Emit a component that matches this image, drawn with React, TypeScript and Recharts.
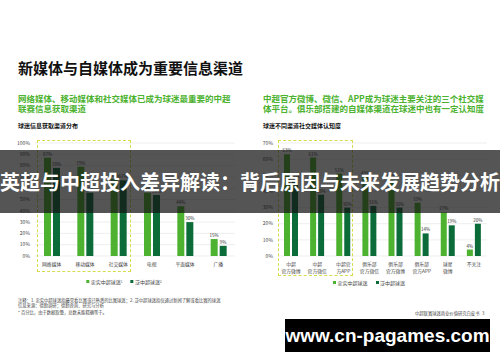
import { BarChart, Bar, XAxis, YAxis, CartesianGrid, LabelList } from 'recharts';

const canalesInfo = ['网络媒体', '移动媒体', '社交媒体', '电视', '平面媒体', '广播'];
const lealesInfo = [87, 79, 68, 56, 44, 15];
const generalesInfo = [78, 56, 67, 54, 30, 9];
const ticksInfo = [0, 10, 20, 30, 40, 50, 60, 70, 80, 90, 100];

const canalesSocial = [
  '中超\n官方微博',
  '中超\n官方微信',
  '中超官\n方APP',
  '俱乐部\n官方微信',
  '俱乐部\n官方微博',
  '俱乐部\n官方APP',
  '球星\n微博',
  '不关注',
];
const lealesSocial = [63, 61, 51, 49, 47, 33, 27, 4];
const generalesSocial = [47, 38, 30, 31, 30, 14, 19, 20];
const ticksSocial = [0, 10, 20, 30, 40, 50, 60, 70];

const FONT = '"Noto Sans CJK SC", "Noto Sans", sans-serif';
const VERDE = '#4cb22f';
const OSCURO = '#0b6c3a';
const AMARILLO = '#d5dd4e';

const datosInfo = canalesInfo.map((c, i) => ({ canal: c, leal: lealesInfo[i], general: generalesInfo[i] }));
const datosSocial = canalesSocial.map((c, i) => ({ canal: c, leal: lealesSocial[i], general: generalesSocial[i] }));

const pct = (v: any) => `${v}%`;

function TickCategoria({ x, y, payload }: any) {
  const lineas = String(payload.value).split('\n');
  return (
    <text x={x} y={y + 10} textAnchor="middle" fontSize={4.8} fill="#444" fontFamily={FONT}>
      {lineas.map((l, i) => (
        <tspan key={i} x={x} dy={i === 0 ? 0 : 7}>
          {l}
        </tspan>
      ))}
    </text>
  );
}

function Leyenda({ left, top }: { left: number; top: number }) {
  const item = (color: string, texto: string, sup: string) => (
    <span style={{ display: 'inline-flex', alignItems: 'center', marginRight: 8 }}>
      <span style={{ width: 3, height: 3, background: color, marginRight: 1.5 }} />
      {texto}
      {sup && <sup style={{ fontSize: 3, lineHeight: 0 }}>{sup}</sup>}
    </span>
  );
  return (
    <div
      style={{
        position: 'absolute',
        left,
        top,
        transform: 'translateX(-50%)',
        fontSize: 5,
        color: '#444',
        whiteSpace: 'nowrap',
        display: 'flex',
      }}
    >
      {item(VERDE, '忠实中超球迷', left < 250 ? '1' : '')}
      {item(OSCURO, '泛中超球迷', left < 250 ? '2' : '')}
    </div>
  );
}

function Grafica({ datos, ticks, max, left, ancho, yAncho, derecha, barSize }: any) {
  return (
    <div style={{ position: 'absolute', left, top: 130 }}>
      <BarChart
        width={ancho}
        height={150}
        data={datos}
        margin={{ top: 13, right: derecha, left: 0, bottom: 0 }}
        barSize={barSize}
        barGap={2}
      >
        <CartesianGrid vertical={false} stroke="#e3e3e3" strokeWidth={0.6} />
        <XAxis
          dataKey="canal"
          interval={0}
          height={24}
          tickLine={false}
          axisLine={false}
          tickSize={0}
          tickMargin={0}
          tick={<TickCategoria />}
        />
        <YAxis
          width={yAncho}
          domain={[0, max]}
          ticks={ticks}
          interval={0}
          tickFormatter={pct}
          tickLine={false}
          axisLine={false}
          tickSize={4}
          tickMargin={1}
          tick={{ fontSize: 5, fill: '#444', fontFamily: FONT }}
        />
        <Bar dataKey="leal" fill={VERDE} isAnimationActive={false}>
          <LabelList dataKey="leal" position="top" offset={2} formatter={pct} fontSize={4.5} fill="#333" />
        </Bar>
        <Bar dataKey="general" fill={OSCURO} isAnimationActive={false}>
          <LabelList dataKey="general" position="top" offset={2} formatter={pct} fontSize={4.5} fill="#333" />
        </Bar>
      </BarChart>
    </div>
  );
}

export default function App() {
  return (
    <div
      style={{
        position: 'absolute',
        left: 0,
        top: 0,
        width: 500,
        height: 362,
        background: '#fff',
        overflow: 'hidden',
        fontFamily: FONT,
      }}
    >
      <div style={{ position: 'absolute', left: 18, top: 60, fontSize: 15, fontWeight: 700, color: '#111', lineHeight: 1 }}>
        新媒体与自媒体成为重要信息渠道
      </div>

      <div style={{ position: 'absolute', left: 18, top: 93, width: 220, fontSize: 8.5, fontWeight: 700, color: VERDE, lineHeight: '10px' }}>
        网络媒体、移动媒体和社交媒体已成为球迷最重要的中超
        <br />
        联赛信息获取渠道
      </div>
      <div style={{ position: 'absolute', left: 263, top: 93, width: 230, fontSize: 8.5, fontWeight: 700, color: VERDE, lineHeight: '10px' }}>
        中超官方微博、微信、APP成为球迷主要关注的三个社交媒
        <br />
        体平台。俱乐部搭建的自媒体渠道在球迷中也有一定认知度
      </div>

      <div style={{ position: 'absolute', left: 18, top: 122, fontSize: 6, fontWeight: 700, color: '#111', lineHeight: '8px' }}>
        球迷信息获取渠道分布
      </div>
      <div style={{ position: 'absolute', left: 263, top: 122, fontSize: 6, fontWeight: 700, color: '#111', lineHeight: '8px' }}>
        球迷不同渠道社交媒体认知度
      </div>

      <Grafica datos={datosInfo} ticks={ticksInfo} max={100} left={0} ancho={250} yAncho={35} derecha={15} barSize={7} />
      <Grafica datos={datosSocial} ticks={ticksSocial} max={70} left={250} ancho={250} yAncho={28} derecha={13} barSize={6} />

      {/* Recuadros punteados */}
      <div style={{ position: 'absolute', left: 37, top: 140, width: 94, height: 132, border: `1px dashed ${AMARILLO}`, boxSizing: 'border-box' }} />
      <div style={{ position: 'absolute', left: 278, top: 140, width: 75, height: 136, border: `1px dashed ${AMARILLO}`, boxSizing: 'border-box' }} />

      <Leyenda left={128} top={278} />
      <Leyenda left={373} top={279} />

      {/* Notas */}
      <div style={{ position: 'absolute', left: 18, top: 298, fontSize: 4.3, color: '#444', lineHeight: '5px', whiteSpace: 'nowrap' }}>
        注释：1. 忠实中超球迷指最常看比赛或已熟悉的比赛球迷；2. 泛中超球迷指仅通过新闻了解或看比赛的球迷
        <br />
        信息来源：德勤调研；德勤咨询、研究与分析
      </div>
      <div style={{ position: 'absolute', left: 18, top: 310, fontSize: 4.3, color: '#444', lineHeight: '5px', whiteSpace: 'nowrap' }}>
        * 百分比，由于数据取整，总数未能精确等于。
      </div>
      <div style={{ position: 'absolute', left: 415, top: 311, fontSize: 4.3, color: '#444', lineHeight: '5px', whiteSpace: 'nowrap' }}>
        中超联赛球迷商业价值研究白皮书
      </div>
      <div style={{ position: 'absolute', left: 482, top: 311, fontSize: 4.3, color: '#444', lineHeight: '5px' }}>3</div>

      {/* Banda del título superpuesto */}
      <div
        style={{
          position: 'absolute',
          left: 0,
          top: 150,
          width: 500,
          height: 63,
          background: 'rgba(20,20,20,0.72)',
          color: '#fff',
          fontSize: 20,
          fontWeight: 700,
          display: 'flex',
          alignItems: 'center',
          justifyContent: 'center',
          whiteSpace: 'nowrap',
        }}
      >
        英超与中超投入差异解读：背后原因与未来发展趋势分析
      </div>

      {/* Marca de agua */}
      <div
        style={{
          position: 'absolute',
          left: 285,
          top: 319,
          width: 205,
          height: 33,
          background: '#000',
          color: '#fff',
          fontSize: 19,
          fontWeight: 700,
          fontFamily: '"Liberation Sans", Arial, sans-serif',
          display: 'flex',
          alignItems: 'center',
          justifyContent: 'center',
        }}
      >
        www.cn-pagames.com
      </div>
    </div>
  );
}
